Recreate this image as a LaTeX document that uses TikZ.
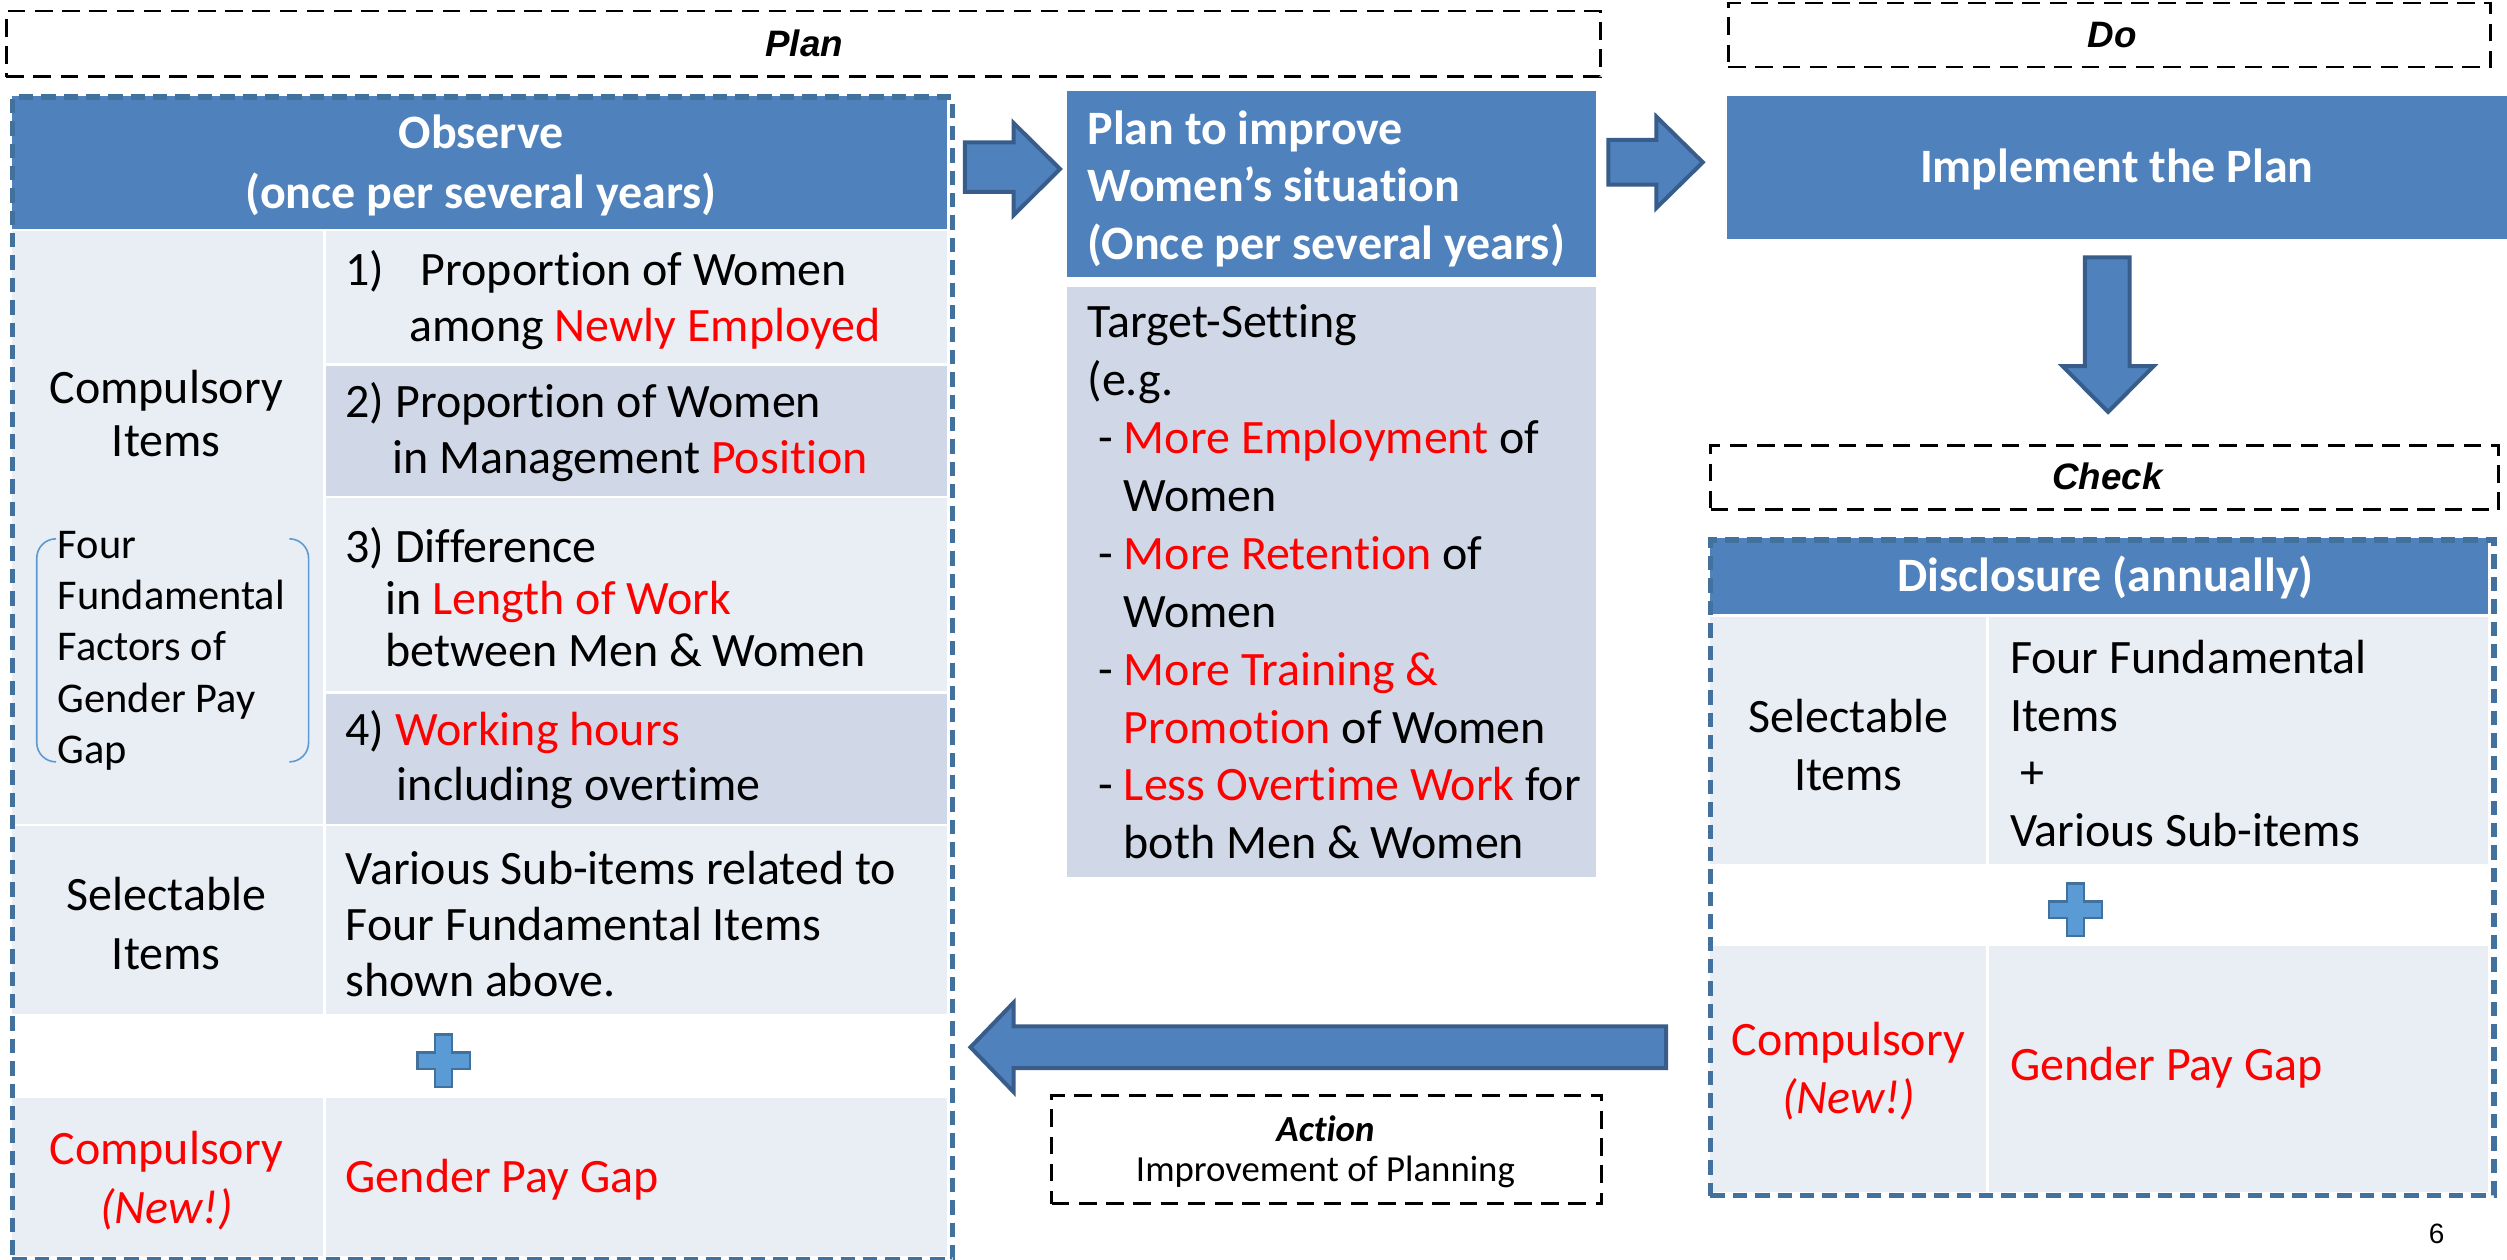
\documentclass[tikz,border=0pt]{standalone}
\usepackage{fontspec}
\setmainfont{Carlito}[Ligatures=NoCommon]
\newfontfamily\arialfont{Liberation Sans}

\definecolor{hdrblue}{HTML}{4F81BD}
\definecolor{celllight}{HTML}{E9EDF4}
\definecolor{celldark}{HTML}{D0D8E8}
\definecolor{frameblue}{HTML}{41719C}
\definecolor{arrowedge}{HTML}{385D8A}
\definecolor{plusfill}{HTML}{5B9BD5}
\definecolor{txtred}{HTML}{FF0000}

\newcommand\redtxt[1]{\textcolor{txtred}{#1}}

\tikzset{
  cellbox/.style={draw=white, line width=1.5pt},
  phasebox/.style={draw=black, line width=1.8pt, dash pattern=on 11pt off 6pt, inner sep=0pt},
  phasetext/.style={font=\arialfont\bfseries\itshape\fontsize{23}{27}\selectfont},
  tableframe/.style={draw=frameblue, line width=3.5pt, dash pattern=on 9pt off 5pt, inner sep=0pt},
  blockarrow/.style={fill=hdrblue, draw=arrowedge, line width=2.5pt, line join=miter},
  plusmark/.style={fill=plusfill, draw=frameblue, line width=1.5pt, line join=miter},
  headtext/.style={text=white, font=\bfseries\fontsize{30}{#1}\selectfont, inner sep=0pt},
  headtext/.default=37,
  body/.style={font=\fontsize{30}{#1}\selectfont, inner sep=0pt},
  body/.default=35,
  pics/plussign/.style={code={
    \draw[plusmark] (-5.25,-16.5) -- (5.25,-16.5) -- (5.25,-5.25) -- (16.5,-5.25)
      -- (16.5,5.25) -- (5.25,5.25) -- (5.25,16.5) -- (-5.25,16.5) -- (-5.25,5.25)
      -- (-16.5,5.25) -- (-16.5,-5.25) -- (-5.25,-5.25) -- cycle;}},
}

\begin{document}
\begin{tikzpicture}[x=1pt,y=-1pt]
\useasboundingbox[fill=white] (0,0) rectangle (1568,788);

% ---------- phase labels ----------
\node[phasebox, minimum width=997pt, minimum height=41pt, anchor=north west] (planlbl) at (3,6) {};
\node[phasetext] (plantxt) at (503,27) {Plan};
\node[phasebox, minimum width=477pt, minimum height=40pt, anchor=north west] (dolbl) at (1080,1) {};
\node[phasetext] (dotxt) at (1321,22) {Do};
\node[phasebox, minimum width=493pt, minimum height=40pt, anchor=north west] (checklbl) at (1069,278) {};
\node[phasetext] (checktxt) at (1318,298) {Check};
\node[phasebox, minimum width=344pt, minimum height=68pt, anchor=north west] (actionlbl) at (657,684) {};
\node[font=\bfseries\itshape\fontsize{23}{27}\selectfont, inner sep=0pt] (actiontxt) at (829,706) {Action};
\node[font=\fontsize{23}{27}\selectfont, inner sep=0pt] (actionsub) at (829,733) {Improvement of Planning};

% ---------- Observe table ----------
\path[cellbox, fill=hdrblue]   (7,59)    rectangle (593,144);
\path[cellbox, fill=celllight] (7,144)   rectangle (203,516);
\path[cellbox, fill=celllight] (203,144) rectangle (593,228);
\path[cellbox, fill=celldark]  (203,228) rectangle (593,311);
\path[cellbox, fill=celllight] (203,311) rectangle (593,433);
\path[cellbox, fill=celldark]  (203,433) rectangle (593,516);
\path[cellbox, fill=celllight] (7,516)   rectangle (203,635);
\path[cellbox, fill=celllight] (203,516) rectangle (593,635);
\path[cellbox, fill=celllight] (7,686)   rectangle (203,786);
\path[cellbox, fill=celllight] (203,686) rectangle (593,786);
\node[tableframe, minimum width=588pt, minimum height=727pt, anchor=north west] (observe) at (6,59) {};

\node[headtext, align=center] (obshead) at (301,103.5) {Observe\\(once per several years)};

\node[body=33, align=center] (compitems) at (104,258.5) {Compulsory\\Items};
\draw[plusfill, line width=1pt, rounded corners=12pt] (34,337) -- (23,337) -- (23,476.5) -- (34,476.5);
\draw[plusfill, line width=1pt, rounded corners=12pt] (182,337) -- (193,337) -- (193,476.5) -- (182,476.5);
\node[font=\fontsize{26.5}{32}\selectfont, inner sep=0pt, align=left, anchor=west] (factors) at (36,407)
  {Four\\Fundamental\\Factors of\\Gender Pay\\Gap};

\node[body, align=left, anchor=west] (item1) at (216,187.5)
  {\makebox[47pt][l]{1)}Proportion of Women\\\hspace*{40pt}among \redtxt{Newly Employed}};
\node[body, align=left, anchor=west] (item2) at (216,270.5)
  {2) Proportion of Women\\\hspace*{29pt}in Management \redtxt{Position}};
\node[body=32.5, align=left, anchor=west] (item3) at (216,373.5)
  {3) Difference\\\hspace*{25pt}in \redtxt{Length of Work}\\\hspace*{25pt}between Men \& Women};
\node[body=34, align=left, anchor=west] (item4) at (216,475)
  {4) \redtxt{Working hours}\\\hspace*{32pt}including overtime};

\node[body=37, align=center] (selitems) at (104,577.5) {Selectable\\Items};
\node[body, align=left, anchor=west] (seltext) at (216,578)
  {Various Sub-items related to\\Four Fundamental Items\\shown above.};

\pic (plusleft) at (277.5,663.5) {plussign};

\node[body=37, align=center, text=txtred] (compnew) at (104,738.5) {Compulsory\\\textit{(New!)}};
\node[body, anchor=west, text=txtred] (gapleft) at (216,738) {Gender Pay Gap};

% ---------- Plan box ----------
\node[fill=hdrblue, minimum width=331pt, minimum height=116pt, anchor=north west, inner sep=0pt] (planhead) at (667,57) {};
\node[headtext=36, align=left, anchor=west] (planheadtxt) at (680,118)
  {Plan to improve\\Women’s situation\\(Once per several years)};
\node[fill=celldark, minimum width=331pt, minimum height=369pt, anchor=north west, inner sep=0pt] (planbody) at (667,179) {};
\node[font=\fontsize{30}{36.2}\selectfont, inner sep=0pt, align=left, anchor=west] (plantargets) at (680,364)
  {Target-Setting\\(e.g.\\
   \hspace*{6.8pt}-\ \redtxt{More Employment} of\\
   \hspace*{22.6pt}Women\\
   \hspace*{6.8pt}-\ \redtxt{More Retention} of\\
   \hspace*{22.6pt}Women\\
   \hspace*{6.8pt}-\ \redtxt{More Training \&}\\
   \hspace*{22.6pt}\redtxt{Promotion} of Women\\
   \hspace*{6.8pt}-\ \redtxt{Less Overtime Work} for\\
   \hspace*{22.6pt}both Men \& Women};

% ---------- Do box ----------
\node[fill=hdrblue, minimum width=488pt, minimum height=89pt, anchor=north west, inner sep=0pt] (implement) at (1080,60) {};
\node[headtext] (implementtxt) at (1324,106) {Implement the Plan};

% ---------- Disclosure table ----------
\path[cellbox, fill=hdrblue]   (1069,336) rectangle (1557,385);
\path[cellbox, fill=celllight] (1069,385) rectangle (1243,541);
\path[cellbox, fill=celllight] (1243,385) rectangle (1557,541);
\path[cellbox, fill=celllight] (1069,591) rectangle (1243,746);
\path[cellbox, fill=celllight] (1243,591) rectangle (1557,746);
\node[tableframe, minimum width=490pt, minimum height=410pt, anchor=north west] (disclosure) at (1068,336) {};

\node[headtext] (disclosuretxt) at (1317,361) {Disclosure (annually)};
\node[body=36, align=center] (selright) at (1156,466) {Selectable\\Items};
\node[body=36, align=left, anchor=west] (selrighttxt) at (1257,465)
  {Four Fundamental\\Items\\\hspace*{0.226em}+\\Various Sub-items};
\pic (plusright) at (1298,569) {plussign};
\node[body=36, align=center, text=txtred] (compright) at (1156,670) {Compulsory\\\textit{(New!)}};
\node[body, anchor=west, text=txtred] (gapright) at (1257,668) {Gender Pay Gap};

% ---------- block arrows ----------
\draw[blockarrow] (603.5,89) -- (634,89) -- (634,77) -- (663,105.7) -- (634,134.5) -- (634,120) -- (603.5,120) -- cycle;
\draw[blockarrow] (1006,87.5) -- (1036,87.5) -- (1036,73) -- (1065,101.5) -- (1036,130) -- (1036,115.5) -- (1006,115.5) -- cycle;
\draw[blockarrow] (1304,161) -- (1332,161) -- (1332,229) -- (1347,229) -- (1318.5,257.6) -- (1290,229) -- (1304,229) -- cycle;
\draw[blockarrow] (1042,642) -- (634,642) -- (634,627) -- (607,655) -- (634,683) -- (634,668) -- (1042,668) -- cycle;

% ---------- page number ----------
\node[font=\arialfont\fontsize{17.5}{20}\selectfont, inner sep=0pt] (pagenum) at (1524,772) {6};
\end{tikzpicture}
\end{document}
